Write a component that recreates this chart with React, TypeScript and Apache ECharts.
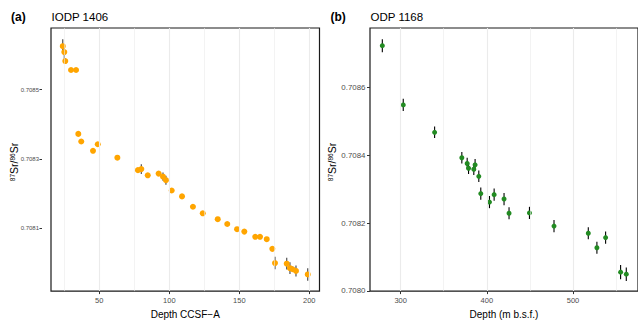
import React, { useEffect, useRef } from "react";
import * as echarts from "echarts";

// ---- Data: IODP 1406 ----
const depthA = [23.9, 25.0, 25.7, 29.8, 33.4, 35.0, 37.1, 45.5, 48.9, 62.9, 77.6, 80.0, 84.6, 92.4, 95.5, 97.6, 101.7, 109.1, 116.9, 123.9, 134.6, 141.4, 148.4, 153.6, 161.4, 164.8, 169.6, 173.6, 175.5, 183.9, 186.2, 188.1, 190.5, 198.9];
const srA = [0.708626, 0.708609, 0.708583, 0.708557, 0.708557, 0.708372, 0.70835, 0.708323, 0.708342, 0.708303, 0.708267, 0.70827, 0.708252, 0.708257, 0.708248, 0.708238, 0.708208, 0.708191, 0.708161, 0.708142, 0.708125, 0.708111, 0.708096, 0.708089, 0.708074, 0.708074, 0.708067, 0.708039, 0.707998, 0.707996, 0.707983, 0.70798, 0.707975, 0.707965];
const errA = [0.00002, 0.000022, 0.000008, 0.000004, 0.000004, 0.000004, 0.000004, 0.000004, 0.000004, 0.000004, 0.000004, 0.000014, 0.000004, 0.000004, 0.000012, 0.000013, 0.000004, 0.000004, 0.000004, 0.000004, 0.000004, 0.000004, 0.000004, 0.000004, 0.000004, 0.000004, 0.000004, 0.000006, 0.000018, 0.000017, 0.000017, 0.000008, 0.000016, 0.000018];

// ---- Data: ODP 1168 ----
const depthB = [278.7, 303.0, 339.4, 371.0, 377.2, 378.8, 384.9, 386.4, 390.7, 393.0, 403.1, 408.5, 420.0, 425.8, 449.5, 478.0, 517.8, 527.8, 537.9, 555.3, 561.9];
const srB = [0.708724, 0.708549, 0.708468, 0.708393, 0.708376, 0.708362, 0.708359, 0.708372, 0.708338, 0.708287, 0.708262, 0.708284, 0.708271, 0.708229, 0.70823, 0.708191, 0.70817, 0.708127, 0.708157, 0.708055, 0.708049];
const errB = [0.000019, 0.000018, 0.000017, 0.000017, 0.000017, 0.000017, 0.000017, 0.000017, 0.000017, 0.000018, 0.000018, 0.000018, 0.000018, 0.000018, 0.000018, 0.000018, 0.000018, 0.000018, 0.000018, 0.000021, 0.00002];

// ---- Ticks ----
const xTicksA = [50, 100, 150, 200];
const xMinorA = [25, 75, 125, 175];
const yTicksA = [0.7081, 0.7083, 0.7085];
const yMinorA = [0.708, 0.7082, 0.7084, 0.7086];
const xTicksB = [300, 400, 500];
const xMinorB = [350, 450, 550];
const yTicksB = [0.708, 0.7082, 0.7084, 0.7086];
const yMinorB = [0.7081, 0.7083, 0.7085, 0.7087];

const FONT = "'Liberation Sans', Arial, Helvetica, sans-serif";
const GRID_MAJOR = "#EBEBEB";

function gridSeries(idx: number, xMaj: number[], xMin: number[], yMaj: number[], yMin: number[]) {
  const mk = (vals: number[], key: string, w: number) =>
    vals.map((v) => ({ [key]: v, lineStyle: { color: GRID_MAJOR, width: w, type: "solid" } }));
  return {
    type: "scatter",
    xAxisIndex: idx,
    yAxisIndex: idx,
    data: [],
    z: 1,
    silent: true,
    markLine: {
      silent: true,
      symbol: ["none", "none"],
      label: { show: false },
      animation: false,
      data: [
        ...mk(xMin, "xAxis", 0.6),
        ...mk(yMin, "yAxis", 0.6),
        ...mk(xMaj, "xAxis", 1.1),
        ...mk(yMaj, "yAxis", 1.1),
      ],
    },
  };
}

function errSeries(idx: number, xs: number[], ys: number[], es: number[], color: string) {
  return {
    type: "custom",
    xAxisIndex: idx,
    yAxisIndex: idx,
    z: 2,
    silent: true,
    data: xs.map((x, i) => [x, ys[i], es[i]]),
    encode: { x: 0, y: 1 },
    renderItem: (_p: any, api: any) => {
      const x = api.value(0);
      const y = api.value(1);
      const e = api.value(2);
      const a = api.coord([x, y - e]);
      const b = api.coord([x, y + e]);
      return {
        type: "line",
        shape: { x1: a[0], y1: a[1], x2: b[0], y2: b[1] },
        style: { stroke: color, lineWidth: 1.1 },
      };
    },
  };
}

function xAxis(idx: number, min: number, max: number, ticks: number[], name: string) {
  return {
    type: "value",
    gridIndex: idx,
    min,
    max,
    splitLine: { show: false },
    axisLine: { show: false },
    axisTick: { show: true, length: 3, customValues: ticks, lineStyle: { color: "#333", width: 1 } },
    axisLabel: { customValues: ticks, fontSize: 7.5, color: "#4D4D4D", margin: 5, fontFamily: FONT },
    name,
    nameLocation: "middle",
    nameGap: 13.5,
    nameTextStyle: { fontSize: 10, color: "#000", fontFamily: FONT },
  };
}

function yAxis(idx: number, min: number, max: number, ticks: number[], fs: number, offset: number, tickLen: number, margin: number) {
  return {
    type: "value",
    gridIndex: idx,
    min,
    max,
    offset,
    splitLine: { show: false },
    axisLine: { show: false },
    axisTick: { show: true, length: tickLen, customValues: ticks, lineStyle: { color: "#333", width: 1 } },
    axisLabel: {
      customValues: ticks,
      fontSize: fs,
      color: "#4D4D4D",
      margin,
      fontFamily: FONT,
      formatter: (v: number) => v.toFixed(4),
    },
  };
}

const ytitle = (x: number, y: number) => ({
  type: "text",
  x,
  y,
  rotation: Math.PI / 2,
  style: {
    text: "{s|87}{b|Sr/}{s|86}{b|Sr}",
    align: "center",
    verticalAlign: "middle",
    fill: "#000",
    fontFamily: FONT,
    rich: {
      s: { fontSize: 6.5, verticalAlign: "top", fontFamily: FONT, fill: "#000", lineHeight: 11 },
      b: { fontSize: 10.5, fontFamily: FONT, fill: "#000", lineHeight: 11 },
    },
  },
});

export default function App() {
  const ref = useRef<HTMLDivElement>(null);
  useEffect(() => {
    if (!ref.current) return;
    const chart = echarts.init(ref.current, undefined, { renderer: "svg" });
    chart.setOption({
      animation: false,
      backgroundColor: "#ffffff",
      grid: [
        { left: 51, top: 28, width: 268.5, height: 268.7, show: true, borderColor: "#1a1a1a", borderWidth: 1.2, backgroundColor: "transparent" },
        { left: 370, top: 28, width: 268.5, height: 268.7, show: true, borderColor: "#1a1a1a", borderWidth: 1.2, backgroundColor: "transparent" },
      ],
      xAxis: [
        xAxis(0, 15.5, 207.3, xTicksA, "Depth CCSF\u2212A"),
        xAxis(1, 264.4, 575.5, xTicksB, "Depth (m b.s.f.)"),
      ],
      yAxis: [
        yAxis(0, 0.7079167, 0.7086787, yTicksA, 6, 9, 2.5, 3),
        yAxis(1, 0.707999, 0.7087763, yTicksB, 7.9, 0, 3, 4.5),
      ],
      series: [
        gridSeries(0, xTicksA, xMinorA, yTicksA, yMinorA),
        gridSeries(1, xTicksB, xMinorB, yTicksB, yMinorB),
        errSeries(0, depthA, srA, errA, "rgba(0,0,0,0.75)"),
        errSeries(1, depthB, srB, errB, "#000"),
        {
          type: "scatter",
          xAxisIndex: 0,
          yAxisIndex: 0,
          symbolSize: 6,
          z: 3,
          itemStyle: { color: "#FFA500", opacity: 1, borderWidth: 0 },
          data: depthA.map((d, i) => [d, srA[i]]),
        },
        {
          type: "scatter",
          xAxisIndex: 1,
          yAxisIndex: 1,
          symbolSize: 5,
          z: 3,
          itemStyle: { color: "#228B22", opacity: 1, borderWidth: 0 },
          data: depthB.map((d, i) => [d, srB[i]]),
        },
      ],
      graphic: [
        { type: "text", x: 11, y: 17, style: { text: "(a)", fontSize: 12, fontWeight: "bold", fontFamily: FONT, fill: "#000", verticalAlign: "middle" } },
        { type: "text", x: 51.5, y: 17, style: { text: "IODP 1406", fontSize: 11.5, fontFamily: FONT, fill: "#000", verticalAlign: "middle" } },
        { type: "text", x: 330.5, y: 17, style: { text: "(b)", fontSize: 12, fontWeight: "bold", fontFamily: FONT, fill: "#000", verticalAlign: "middle" } },
        { type: "text", x: 370.5, y: 17, style: { text: "ODP 1168", fontSize: 11.5, fontFamily: FONT, fill: "#000", verticalAlign: "middle" } },
        ytitle(14, 162),
        ytitle(332, 162),
      ],
    });
    return () => chart.dispose();
  }, []);
  return <div ref={ref} style={{ position: "fixed", left: 0, top: 0, width: 638, height: 324 }} />;
}
